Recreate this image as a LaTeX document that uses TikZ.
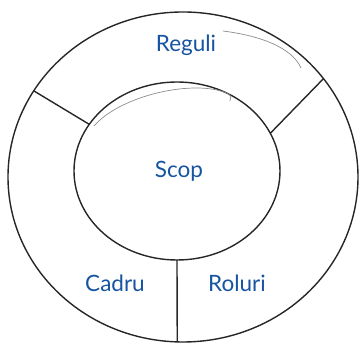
\documentclass[tikz,border=0pt]{standalone}
\usepackage{fontspec}
\setmainfont{Lato}
\usetikzlibrary{shapes.geometric}

\definecolor{labelblue}{RGB}{22,84,162}

\tikzset{
    ring/.style={ellipse, draw=black!85, line width=1.4pt, inner sep=0pt, outer sep=0pt},
    divider/.style={draw=black!85, line width=1.4pt},
    sketch/.style={draw=black!45, line width=0.7pt},
    label/.style={text=labelblue, font=\fontsize{22.5}{26}\selectfont}
}

\begin{document}
\begin{tikzpicture}[x=1pt, y=-1pt]

    \useasboundingbox (0, 0) rectangle (360, 344);

    % Draw the two rings
    \node[ring, minimum width=350pt, minimum height=330pt] (outer) at (183, 177) {};
    \node[ring, minimum width=206pt, minimum height=178pt] (inner) at (177, 171) {};

    % Pencil strokes left over from the sketch
    \draw[sketch] (223, 31) .. controls (262, 36) and (292, 48) .. (301, 68);
    \draw[sketch] (94, 126) .. controls (120, 96) and (190, 80) .. (224, 92)
                  .. controls (231, 95) .. (230, 101);

    % Split the outer ring into three parts
    \draw[divider] (inner.152) -- (outer.150);
    \draw[divider] (inner.22) -- (outer.35);
    \draw[divider] (inner.-90) -- (outer.-92);

    % Add the labels
    \node[label] (scop) at (179, 171) {Scop};
    \node[label] (reguli) at (186, 45) {Reguli};
    \node[label] (cadru) at (115, 283) {Cadru};
    \node[label] (roluri) at (237, 283) {Roluri};

\end{tikzpicture}
\end{document}
